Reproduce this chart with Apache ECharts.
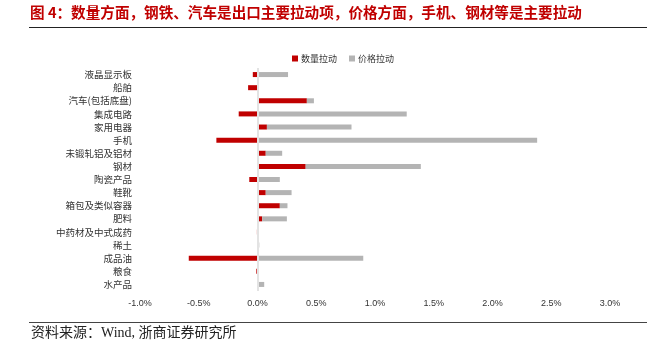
<!DOCTYPE html>
<html>
<head>
<meta charset="utf-8">
<script src="https://cdn.jsdelivr.net/npm/echarts@6/dist/echarts.min.js"></script>
<style>
  html, body { margin: 0; padding: 0; background: #fff; }
  #main { width: 647px; height: 352px; }
</style>
</head>
<body>
<div id="main"></div>
<script>
// 品类
const categories = ['液晶显示板', '船舶', '汽车(包括底盘)', '集成电路', '家用电器', '手机', '未锻轧铝及铝材', '钢材', '陶瓷产品', '鞋靴', '箱包及类似容器', '肥料', '中药材及中式成药', '稀土', '成品油', '粮食', '水产品'];
// 数量拉动 (%)
const qtyPull = [-0.04, -0.08, 0.42, -0.16, 0.08, -0.35, 0.07, 0.41, -0.07, 0.07, 0.19, 0.04, -0.005, 0.005, -0.585, -0.01, 0];
// 价格拉动 (%)
const pricePull = [0.26, 0, 0.06, 1.27, 0.72, 2.38, 0.14, 0.98, 0.19, 0.22, 0.065, 0.21, 0.005, 0.01, 0.90, 0, 0.057];
const xTicks = [-1.0, 3.0, 0.5]; // min, max, interval

const chart = echarts.init(document.getElementById('main'), null, { renderer: 'canvas' });

const labelFont = '"Noto Sans CJK SC", sans-serif';

chart.setOption({
  animation: false,
  backgroundColor: '#fff',
  graphic: [
    {
      type: 'text', left: 30, top: 5,
      style: {
        text: '图 4：数量方面，钢铁、汽车是出口主要拉动项，价格方面，手机、钢材等是主要拉动',
        fill: '#c00000', font: 'bold 14.6px "Noto Sans CJK SC", sans-serif'
      }
    },
    { type: 'line', shape: { x1: 29, y1: 27.5, x2: 647, y2: 27.5 }, style: { stroke: '#222', lineWidth: 1 } },
    { type: 'line', shape: { x1: 29, y1: 322.5, x2: 647, y2: 322.5 }, style: { stroke: '#444', lineWidth: 1 } },
    {
      type: 'text', left: 31, top: 326,
      style: {
        text: '资料来源：Wind, 浙商证券研究所',
        fill: '#222', font: '14px "Liberation Serif", "Noto Sans CJK SC", serif'
      }
    }
  ],
  legend: {
    top: 49, left: 287,
    itemWidth: 6, itemHeight: 6, itemGap: 12,
    icon: 'rect',
    textStyle: { fontSize: 9, color: '#333', fontFamily: labelFont, padding: [0, 0, 0, -2] },
    data: ['数量拉动', '价格拉动']
  },
  grid: { left: 140, right: 37, top: 68, bottom: 61, outerBoundsMode: 'none' },
  xAxis: {
    type: 'value',
    min: xTicks[0], max: xTicks[1], interval: xTicks[2],
    axisLine: { show: false },
    axisTick: { show: false },
    splitLine: { show: false },
    axisLabel: {
      fontSize: 9, color: '#333', margin: 8,
      formatter: v => v.toFixed(1) + '%'
    }
  },
  yAxis: {
    type: 'category',
    inverse: true,
    data: categories,
    axisLine: { show: false },
    axisTick: { show: false },
    axisLabel: { fontSize: 9.5, color: '#333', fontFamily: labelFont, margin: 8 }
  },
  series: [
    {
      name: '数量拉动', type: 'bar', stack: 'total', barWidth: 5,
      itemStyle: { color: '#c00000' },
      data: qtyPull,
      markLine: {
        silent: true, symbol: 'none', label: { show: false },
        lineStyle: { color: '#e3e3e3', width: 2, type: 'solid' },
        data: [{ xAxis: 0 }]
      }
    },
    {
      name: '价格拉动', type: 'bar', stack: 'total', barWidth: 5,
      itemStyle: { color: '#b4b4b4' },
      data: pricePull
    }
  ]
});
</script>
</body>
</html>
